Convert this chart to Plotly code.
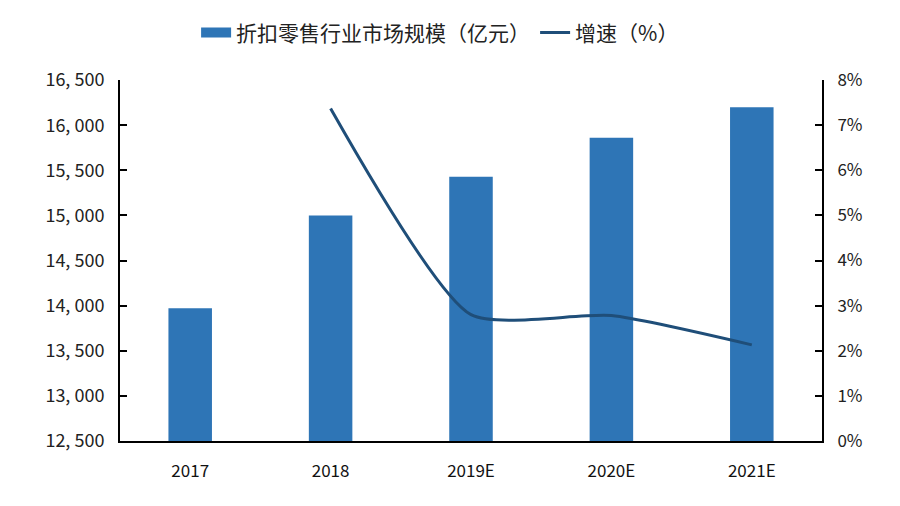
import plotly.graph_objects as go

categories = ["2017", "2018", "2019E", "2020E", "2021E"]
market_size = [13970, 15000, 15430, 15860, 16200]
growth_x = ["2018", "2019E", "2020E", "2021E"]
growth_pct = [7.37, 2.80, 2.78, 2.13]

left_ticks = [12500, 13000, 13500, 14000, 14500, 15000, 15500, 16000, 16500]
left_labels = ["12, 500", "13, 000", "13, 500", "14, 000", "14, 500", "15, 000", "15, 500", "16, 000", "16, 500"]
right_ticks = [0, 1, 2, 3, 4, 5, 6, 7, 8]
right_labels = ["0%", "1%", "2%", "3%", "4%", "5%", "6%", "7%", "8%"]

font_main = "Noto Sans CJK SC, DejaVu Sans, sans-serif"
bar_color = "#2E75B6"
line_color = "#1F4E79"

fig = go.Figure()
fig.add_trace(go.Bar(
    x=categories, y=market_size, name="折扣零售行业市场规模（亿元）",
    marker=dict(color=bar_color, line=dict(width=0)), width=0.31, showlegend=False,
))
# legend-only swatch (wide rectangle like the reference)
fig.add_trace(go.Scatter(
    x=[None], y=[None], name="折扣零售行业市场规模（亿元）", mode="lines",
    line=dict(color=bar_color, width=10), showlegend=True,
))
fig.add_trace(go.Scatter(
    x=growth_x, y=growth_pct, name="增速（%）", yaxis="y2", mode="lines",
    line=dict(color=line_color, width=3, shape="spline", smoothing=0.6),
))

fig.update_layout(
    width=900, height=506,
    margin=dict(l=120, r=78, t=76, b=65),
    paper_bgcolor="white", plot_bgcolor="white",
    font=dict(family=font_main, size=16, color="#222222"),
    showlegend=True,
    legend=dict(orientation="h", xref="container", x=0.489, xanchor="center",
                yref="container", y=0.935, yanchor="middle",
                font=dict(size=21, color="#222222"), traceorder="normal"),
    xaxis=dict(
        type="category", showgrid=False, showline=True, linecolor="black", linewidth=2,
        ticks="", tickfont=dict(size=17, color="#111111"), ticklabelstandoff=14,
    ),
    yaxis=dict(
        range=[12500, 16500], tickvals=left_ticks, ticktext=left_labels,
        showgrid=False, showline=True, linecolor="black", linewidth=2,
        ticks="inside", ticklen=7, tickwidth=2, tickcolor="black",
        tickfont=dict(size=18, color="#222222"), zeroline=False, ticklabelstandoff=10,
    ),
    yaxis2=dict(
        range=[0, 8], tickvals=right_ticks, ticktext=right_labels,
        overlaying="y", side="right", showgrid=False, showline=True,
        linecolor="black", linewidth=2, ticks="inside", ticklen=7, tickwidth=2,
        tickcolor="black", tickfont=dict(size=17, color="#222222"), zeroline=False,
        ticklabelstandoff=10,
    ),
)

fig.write_html("out.html")
